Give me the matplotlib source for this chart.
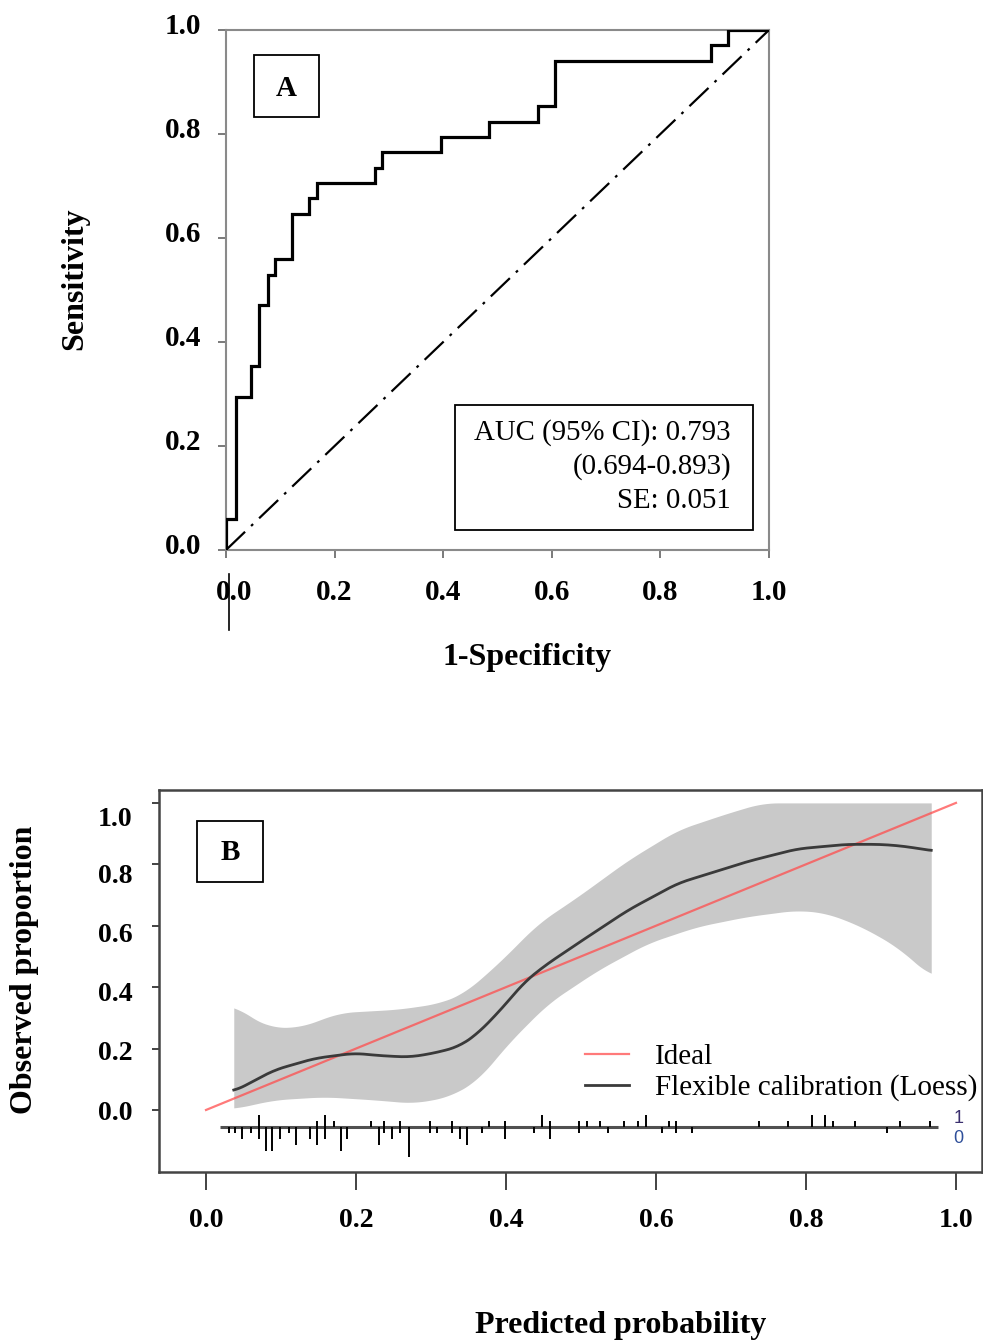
import matplotlib
matplotlib.use("Agg")
import matplotlib.pyplot as plt
import matplotlib.transforms as mtransforms
from matplotlib.patches import Rectangle
import numpy as np

plt.rcParams["lines.scale_dashes"] = False
SERIF = ["Liberation Serif", "DejaVu Serif"]

# ---------------- Panel A: ROC data ----------------
roc_fpr = [0.0, 0.018, 0.046, 0.061, 0.078, 0.090, 0.121, 0.153, 0.168, 0.274,
           0.288, 0.396, 0.484, 0.575, 0.605, 0.893, 0.924, 1.0]
roc_tpr = [0.0, 0.059, 0.294, 0.353, 0.471, 0.529, 0.559, 0.647, 0.676, 0.706,
           0.735, 0.765, 0.794, 0.824, 0.853, 0.941, 0.971, 1.0]
ref_line = [0.0, 1.0]
a_ticks = [0.0, 0.2, 0.4, 0.6, 0.8, 1.0]
a_ticklabels = ["0.0", "0.2", "0.4", "0.6", "0.8", "1.0"]
auc_lines = ["AUC (95% CI): 0.793", "(0.694-0.893)", "SE: 0.051"]

# ---------------- Panel B: calibration data ----------------
loess_p = [0.037, 0.091, 0.145, 0.198, 0.231, 0.271, 0.304, 0.337, 0.363, 0.397,
           0.423, 0.450, 0.496, 0.563, 0.629, 0.722, 0.788, 0.854, 0.901, 0.934, 0.967]
loess_obs = [0.060, 0.130, 0.168, 0.185, 0.177, 0.172, 0.185, 0.206, 0.250, 0.337,
             0.413, 0.467, 0.543, 0.651, 0.738, 0.809, 0.850, 0.865, 0.865, 0.858, 0.844]

ci_up_p = [0.037, 0.058, 0.085, 0.125, 0.178, 0.257, 0.310, 0.344, 0.390, 0.443,
           0.496, 0.563, 0.629, 0.695, 0.742, 0.967]
ci_up = [0.342, 0.304, 0.269, 0.269, 0.317, 0.328, 0.347, 0.380, 0.478, 0.608,
         0.695, 0.814, 0.912, 0.966, 1.0, 1.0]
ci_lo_p = [0.037, 0.091, 0.158, 0.224, 0.277, 0.324, 0.363, 0.403, 0.456, 0.523,
           0.589, 0.655, 0.722, 0.788, 0.828, 0.874, 0.921, 0.967]
ci_lo = [0.004, 0.033, 0.043, 0.033, 0.022, 0.043, 0.098, 0.217, 0.347, 0.456,
         0.543, 0.597, 0.630, 0.651, 0.641, 0.597, 0.532, 0.434]

rug_p = [0.030, 0.039, 0.048, 0.060, 0.070, 0.080, 0.088, 0.099, 0.110, 0.120,
         0.138, 0.148, 0.159, 0.170, 0.180, 0.188, 0.220, 0.230, 0.237, 0.248,
         0.259, 0.270, 0.298, 0.308, 0.328, 0.338, 0.348, 0.368, 0.377, 0.398,
         0.437, 0.448, 0.458, 0.498, 0.508, 0.526, 0.536, 0.557, 0.576, 0.587,
         0.608, 0.618, 0.627, 0.648, 0.737, 0.776, 0.808, 0.826, 0.836, 0.865,
         0.908, 0.926, 0.965]
rug_n1 = [0, 0, 0, 0, 2, 0, 0, 0, 0, 0,
          0, 1, 2, 1, 0, 0, 1, 0, 1, 0,
          1, 0, 1, 0, 1, 0, 0, 0, 1, 1,
          0, 2, 1, 1, 1, 1, 0, 1, 1, 2,
          0, 1, 1, 0, 1, 1, 2, 2, 1, 1,
          0, 1, 1]
rug_n0 = [1, 1, 2, 1, 2, 4, 4, 2, 1, 3,
          2, 3, 2, 0, 4, 2, 0, 3, 1, 2,
          1, 5, 1, 1, 1, 2, 3, 1, 0, 2,
          1, 0, 2, 1, 0, 0, 1, 0, 0, 0,
          1, 0, 1, 1, 0, 0, 0, 0, 0, 0,
          1, 0, 0]
rug_range = [0.019, 0.976]
b_ticks = [0.0, 0.2, 0.4, 0.6, 0.8, 1.0]
b_ticklabels = ["0.0", "0.2", "0.4", "0.6", "0.8", "1.0"]
legend_labels = ["Ideal", "Flexible calibration (Loess)"]

W, H = 983, 1342
fig = plt.figure(figsize=(W / 100, H / 100), dpi=100)


def fx(px):
    return px / W


def fy(py):
    return 1 - py / H


def px_off(dx, dy):
    return mtransforms.ScaledTranslation(dx / 100, -dy / 100, fig.dpi_scale_trans)


def smooth(xs, ys, grid, width=0.025):
    lin = np.interp(grid, xs, ys)
    step = grid[1] - grid[0]
    k = max(1, int(round(width / step)))
    pad = np.concatenate([np.full(k, lin[0]), lin, np.full(k, lin[-1])])
    ker = np.ones(2 * k + 1) / (2 * k + 1)
    return np.convolve(pad, ker, mode="same")[k:-k]


# ================= Panel A =================
axA = fig.add_axes([fx(226), fy(550), fx(769) - fx(226), fy(30) - fy(550)])
axA.plot(roc_fpr, roc_tpr, drawstyle="steps-pre", color="black", lw=2.3,
         solid_joinstyle="miter", zorder=3)
axA.plot(ref_line, ref_line, color="black", lw=1.6, dashes=(19, 6, 2, 6), zorder=2)
axA.set_xlim(0, 1)
axA.set_ylim(0, 1)
axA.set_xticks(a_ticks)
axA.set_yticks(a_ticks)
axA.set_xticklabels(a_ticklabels, family=SERIF, fontweight="bold", fontsize=21)
axA.set_yticklabels(a_ticklabels, family=SERIF, fontweight="bold", fontsize=21)
for sp in axA.spines.values():
    sp.set_color("#8a8a8a")
    sp.set_linewidth(1.5)
axA.tick_params(axis="y", direction="out", length=6, width=1.3, color="#707070", pad=12)
axA.tick_params(axis="x", direction="out", length=6, width=1.3, color="#707070", pad=15)
for lab in axA.get_yticklabels():
    lab.set_transform(lab.get_transform() + px_off(0, -7))
xl = axA.get_xticklabels()
xl[0].set_transform(xl[0].get_transform() + px_off(8, 0))

# "A" box
axA.add_patch(Rectangle((fx(254), fy(117)), fx(319) - fx(254), fy(55) - fy(117),
                        transform=fig.transFigure, fill=False, ec="black", lw=1.3))
fig.text(fx(286.5), fy(88), "A", family=SERIF, fontweight="bold", fontsize=21,
         ha="center", va="center")
# AUC box
axA.add_patch(Rectangle((fx(455), fy(530)), fx(753) - fx(455), fy(405) - fy(530),
                        transform=fig.transFigure, fill=False, ec="black", lw=1.3))
for i, t in enumerate(auc_lines):
    fig.text(fx(731), fy(433 + 34 * i), t, family=SERIF, fontsize=20.8,
             ha="right", va="center")

fig.text(fx(527), fy(657), "1-Specificity", family=SERIF, fontweight="bold",
         fontsize=23, ha="center", va="center")
fig.text(fx(75), fy(279), "Sensitivity", family=SERIF, fontweight="bold",
         fontsize=23, ha="center", va="center", rotation=90)
# stray tick mark below the x origin
fig.add_artist(plt.Line2D([fx(228.5), fx(228.5)], [fy(574), fy(630)], color="black",
                          lw=1.2, transform=fig.transFigure))

# ================= Panel B =================
axB = fig.add_axes([fx(159), fy(1172), fx(982) - fx(159), fy(790) - fy(1172)])
axB.set_xlim(-0.0627, 1.0347)
axB.set_ylim(-0.202, 1.042)

grid = np.linspace(min(ci_up_p), max(ci_up_p), 500)
up_i = np.minimum(smooth(ci_up_p, ci_up, grid, 0.02), 1.0)
lo_i = smooth(ci_lo_p, ci_lo, grid, 0.02)
axB.fill_between(grid, lo_i, up_i, color="#c9c9c9", lw=0, zorder=1)
axB.plot(ref_line, ref_line, color="#ff4d4d", lw=1.6, alpha=0.75, zorder=3,
         label=legend_labels[0])
lo_grid = np.linspace(min(loess_p), max(loess_p), 500)
axB.plot(lo_grid, smooth(loess_p, loess_obs, lo_grid, 0.015), color="#3a3a3a",
         lw=2.0, zorder=4, label=legend_labels[1])

# rug
base = -0.055
unit = 0.0195
axB.plot(rug_range, [base, base], color="#505050", lw=2.2, zorder=4,
         solid_capstyle="butt")
for p, n1, n0 in zip(rug_p, rug_n1, rug_n0):
    if n1:
        axB.vlines(p, base, base + n1 * unit, color="black", lw=1.4, zorder=5)
    if n0:
        axB.vlines(p, base - n0 * unit, base, color="black", lw=1.4, zorder=5)
axB.text(1.003, base + 0.026, "1", color="#3a2f6e", fontsize=13, ha="center",
         va="center", family="Liberation Sans")
axB.text(1.003, base - 0.038, "0", color="#2f4f9a", fontsize=13, ha="center",
         va="center", family="Liberation Sans")

axB.set_xticks(b_ticks)
axB.set_yticks(b_ticks)
axB.set_xticklabels(b_ticklabels, family=SERIF, fontweight="bold", fontsize=20)
axB.set_yticklabels(b_ticklabels, family=SERIF, fontweight="bold", fontsize=20)
for sp in axB.spines.values():
    sp.set_color("#444444")
    sp.set_linewidth(1.8)
axB.tick_params(axis="x", direction="out", length=13, width=1.2, color="#222222", pad=13)
axB.tick_params(axis="y", direction="out", length=5, width=1.2, color="#222222", pad=14)
b_off = [1, 2, 4, 7, 9, 14]
for lab, d in zip(axB.get_yticklabels(), b_off):
    lab.set_transform(lab.get_transform() + px_off(0, d))

axB.add_patch(Rectangle((fx(197), fy(882)), fx(263) - fx(197), fy(821) - fy(882),
                        transform=fig.transFigure, fill=False, ec="black", lw=1.3))
fig.text(fx(230), fy(852), "B", family=SERIF, fontweight="bold", fontsize=21,
         ha="center", va="center")

leg = axB.legend(loc="upper left", bbox_to_anchor=(fx(585), fy(1044)),
                 bbox_transform=fig.transFigure, frameon=False,
                 prop={"family": SERIF, "size": 21}, handlelength=1.5,
                 handletextpad=0.9, labelspacing=0.14, borderpad=0, borderaxespad=0)

fig.text(fx(621), fy(1325), "Predicted probability", family=SERIF, fontweight="bold",
         fontsize=23, ha="center", va="center")
fig.text(fx(25), fy(970), "Observed proportion", family=SERIF, fontweight="bold",
         fontsize=23, ha="center", va="center", rotation=90)

fig.savefig("out.png", dpi=100)
